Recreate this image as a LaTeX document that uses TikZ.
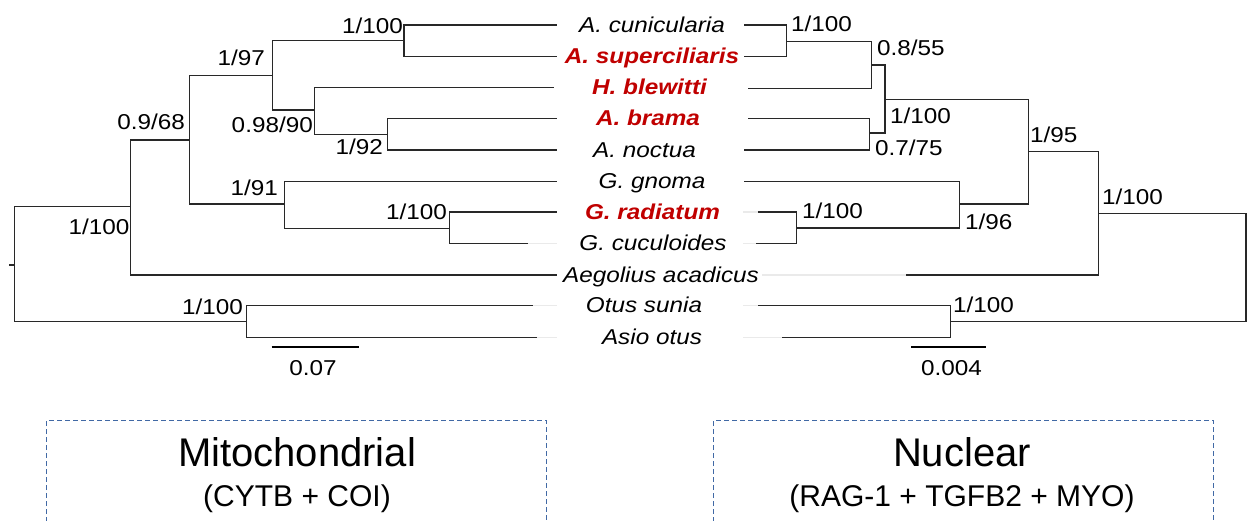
\documentclass[tikz,border=0pt]{standalone}
\usepackage{fontspec}
\setmainfont{Liberation Sans}
\newfontfamily\treefont[FakeStretch=1.13]{Liberation Sans}
\definecolor{taxred}{RGB}{192,0,0}
\definecolor{boxblue}{RGB}{65,105,165}
\definecolor{branchcol}{RGB}{40,40,40}
\definecolor{faintcol}{RGB}{234,234,234}
\tikzset{
  branch/.style={line width=1.5pt, draw=branchcol},
  faint/.style={line width=1.5pt, draw=faintcol},
  scalebar/.style={line width=2.2pt, draw=black},
  supp/.style={font=\treefont\fontsize{21.5}{24}\selectfont, inner sep=0pt},
  suppL/.style={supp, anchor=base east},
  suppR/.style={supp, anchor=base west},
  suppC/.style={supp, anchor=base},
  taxon/.style={font=\treefont\fontsize{21.5}{24}\selectfont\itshape, inner sep=0pt, anchor=base},
  taxhl/.style={font=\treefont\fontsize{21.5}{24}\selectfont\bfseries\itshape, inner sep=0pt, anchor=base, text=taxred},
  titletext/.style={font=\fontsize{40}{44}\selectfont, inner sep=0pt, anchor=base},
  subtext/.style={font=\fontsize{30}{34}\selectfont, inner sep=0pt, anchor=base},
  frame/.style={draw=boxblue, line width=1pt, dash pattern=on 5pt off 3pt}
}
\begin{document}
\begin{tikzpicture}[x=1pt,y=-1pt]
\useasboundingbox (0,0) rectangle (1247,520);

% ---------------- taxon labels ----------------
\node[taxon] (tCun) at (652,32) {A. cunicularia};
\node[taxhl] (tSup) at (652,63.7) {A. superciliaris};
\node[taxhl] (tBle) at (649.5,94.3) {H. blewitti};
\node[taxhl] (tBra) at (648,125.3) {A. brama};
\node[taxon] (tNoc) at (644.5,157) {A. noctua};
\node[taxon] (tGno) at (652,188.7) {G. gnoma};
\node[taxhl] (tRad) at (652.5,219) {G. radiatum};
\node[taxon] (tCuc) at (653,250.3) {G. cuculoides};
\node[taxon] (tAeg) at (661,282) {Aegolius acadicus};
\node[taxon] (tOtu) at (644,312.7) {Otus sunia};
\node[taxon] (tAsi) at (652,344.3) {Asio otus};

% ---------------- left tree (mitochondrial) ----------------
\coordinate (Ltick) at (9,265);
\coordinate (Lroot) at (14.7,265);
\coordinate (LA) at (130.7,206.7);
\coordinate (LB) at (189.3,140);
\coordinate (LC) at (272.3,75.7);
\coordinate (LD) at (404,40.7);
\coordinate (LE) at (314.3,110);
\coordinate (LF) at (387.7,134.3);
\coordinate (LG) at (284.3,204);
\coordinate (LH) at (449.3,228.3);
\coordinate (LI) at (246.7,321.7);
% leaf ends
\coordinate (lCun) at (556.7,25);
\coordinate (lSup) at (556.7,56.7);
\coordinate (lBle) at (554,87.3);
\coordinate (lBra) at (556.7,118.3);
\coordinate (lNoc) at (556.7,150);
\coordinate (lGno) at (556.7,181.7);
\coordinate (lRad) at (556.7,212);
\coordinate (lCuc) at (528.3,243.3);
\coordinate (lCucF) at (556.7,243.3);
\coordinate (lAeg) at (556.7,275);
\coordinate (lOtu) at (532.7,305.7);
\coordinate (lOtuF) at (556.7,305.7);
\coordinate (lAsi) at (537.3,337.3);
\coordinate (lAsiF) at (556.7,337.3);

\draw[faint] (lCuc) -- (lCucF);
\draw[faint] (lOtu) -- (lOtuF);
\draw[faint] (lAsi) -- (lAsiF);

\draw[branch] (Ltick) -- (Lroot);
\draw[branch] (Lroot) |- (LA);
\draw[branch] (Lroot) |- (LI);
\draw[branch] (LA) |- (LB);
\draw[branch] (LA) |- (lAeg);
\draw[branch] (LB) |- (LC);
\draw[branch] (LB) |- (LG);
\draw[branch] (LC) |- (LD);
\draw[branch] (LC) |- (LE);
\draw[branch] (LD) |- (lCun);
\draw[branch] (LD) |- (lSup);
\draw[branch] (LE) |- (lBle);
\draw[branch] (LE) |- (LF);
\draw[branch] (LF) |- (lBra);
\draw[branch] (LF) |- (lNoc);
\draw[branch] (LG) |- (lGno);
\draw[branch] (LG) |- (LH);
\draw[branch] (LH) |- (lRad);
\draw[branch] (LH) |- (lCuc);
\draw[branch] (LI) |- (lOtu);
\draw[branch] (LI) |- (lAsi);

% support values, left
\node[suppL] (sLA) at (129.5,234.5) {1/100};
\node[suppL] (sLB) at (185,129.5) {0.9/68};
\node[suppL] (sLC) at (265,65.5) {1/97};
\node[suppL] (sLD) at (403,33.5) {1/100};
\node[suppL] (sLE) at (313,132.5) {0.98/90};
\node[suppL] (sLF) at (383,154.5) {1/92};
\node[suppL] (sLG) at (278,195.5) {1/91};
\node[suppL] (sLH) at (447,219.5) {1/100};
\node[suppL] (sLI) at (243,314.5) {1/100};

% scale bar, left
\coordinate (Lsb1) at (271.7,346.7);
\coordinate (Lsb2) at (359.3,346.7);
\draw[scalebar] (Lsb1) -- (Lsb2);
\node[suppC] (Lsbl) at (313,375.5) {0.07};

% ---------------- right tree (nuclear) ----------------
\coordinate (Rroot) at (1246,267.5);
\coordinate (RA) at (1098.3,213.3);
\coordinate (RB) at (1028.3,151.7);
\coordinate (RC) at (885,99.3);
\coordinate (RD) at (871.7,65);
\coordinate (RE) at (786.7,41.7);
\coordinate (RF) at (869.3,133);
\coordinate (RG) at (959.3,204);
\coordinate (RH) at (796.7,228);
\coordinate (RI) at (950.7,321.7);
% leaf ends
\coordinate (rCun) at (744.3,25);
\coordinate (rSup) at (744.3,56.7);
\coordinate (rBle) at (747.7,88.3);
\coordinate (rBra) at (747.7,118.3);
\coordinate (rNoc) at (744.3,150);
\coordinate (rGno) at (744.3,181.7);
\coordinate (rRadF) at (743.3,212);
\coordinate (rRad) at (758.3,212);
\coordinate (rCucF) at (743.3,243.3);
\coordinate (rCuc) at (756,243.3);
\coordinate (rAegF) at (762,275);
\coordinate (rAeg) at (906,275);
\coordinate (rOtuF) at (743.3,305.7);
\coordinate (rOtu) at (758.3,305.7);
\coordinate (rAsiF) at (743.3,337.3);
\coordinate (rAsi) at (782.3,337.3);

\draw[faint] (rRadF) -- (rRad);
\draw[faint] (rCucF) -- (rCuc);
\draw[faint] (rAegF) -- (rAeg);
\draw[faint] (rOtuF) -- (rOtu);
\draw[faint] (rAsiF) -- (rAsi);

\draw[branch] (Rroot) |- (RA);
\draw[branch] (Rroot) |- (RI);
\draw[branch] (RA) |- (RB);
\draw[branch] (RA) |- (rAeg);
\draw[branch] (RB) |- (RC);
\draw[branch] (RB) |- (RG);
\draw[branch] (RC) |- (RD);
\draw[branch] (RC) |- (RF);
\draw[branch] (RD) |- (RE);
\draw[branch] (RD) |- (rBle);
\draw[branch] (RE) |- (rCun);
\draw[branch] (RE) |- (rSup);
\draw[branch] (RF) |- (rBra);
\draw[branch] (RF) |- (rNoc);
\draw[branch] (RG) |- (rGno);
\draw[branch] (RG) |- (RH);
\draw[branch] (RH) |- (rRad);
\draw[branch] (RH) |- (rCuc);
\draw[branch] (RI) |- (rOtu);
\draw[branch] (RI) |- (rAsi);

% support values, right
\node[suppR] (sRE) at (791,31.5) {1/100};
\node[suppR] (sRD) at (877,55.5) {0.8/55};
\node[suppR] (sRC) at (890,123.5) {1/100};
\node[suppR] (sRF) at (875,155.5) {0.7/75};
\node[suppR] (sRB) at (1030,142.5) {1/95};
\node[suppR] (sRG) at (965,229.5) {1/96};
\node[suppR] (sRH) at (802,218.5) {1/100};
\node[suppR] (sRA) at (1102,204.5) {1/100};
\node[suppR] (sRI) at (953,312.5) {1/100};

% scale bar, right
\coordinate (Rsb1) at (911,346.7);
\coordinate (Rsb2) at (986,346.7);
\draw[scalebar] (Rsb1) -- (Rsb2);
\node[suppC] (Rsbl) at (951.5,375.5) {0.004};

% ---------------- captions ----------------
\coordinate (mb1) at (46.7,522);
\coordinate (mb2) at (46.7,420.7);
\coordinate (mb3) at (546.7,420.7);
\coordinate (mb4) at (546.7,522);
\draw[frame] (mb1) -- (mb2) -- (mb3) -- (mb4);
\node[titletext] (mTitle) at (297,466.7) {Mitochondrial};
\node[subtext] (mSub) at (297,506.7) {(CYTB + COI)};

\coordinate (nb1) at (713.3,522);
\coordinate (nb2) at (713.3,420.7);
\coordinate (nb3) at (1213.3,420.7);
\coordinate (nb4) at (1213.3,522);
\draw[frame] (nb1) -- (nb2) -- (nb3) -- (nb4);
\node[titletext] (nTitle) at (962,466.7) {Nuclear};
\node[subtext] (nSub) at (962,506.7) {(RAG-1 + TGFB2 + MYO)};
\end{tikzpicture}
\end{document}
